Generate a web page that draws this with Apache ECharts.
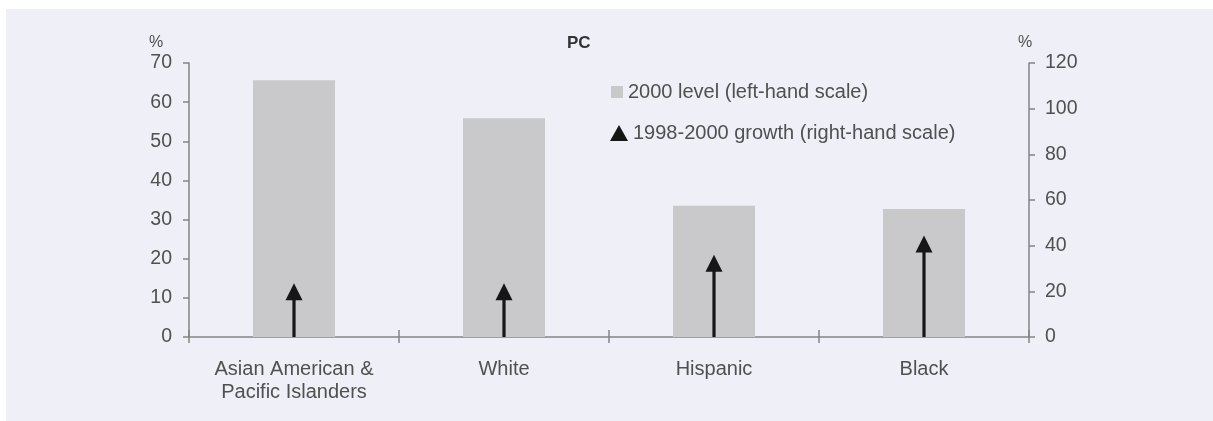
<!DOCTYPE html>
<html>
<head>
<meta charset="utf-8">
<script src="https://cdn.jsdelivr.net/npm/echarts@6/dist/echarts.min.js"></script>
<style>
html,body{margin:0;padding:0;background:#ffffff;width:1213px;height:421px;overflow:hidden;}
#chart{position:absolute;left:6px;top:9px;width:1207px;height:412px;}
</style>
</head>
<body>
<div id="chart"></div>
<script>
const categories = ['Asian American &\nPacific Islanders', 'White', 'Hispanic', 'Black'];
const level2000 = [65.6, 55.9, 33.5, 32.7];
const growth9800 = [23.5, 23.5, 36, 44.5];
const leftTicks = { min: 0, max: 70, interval: 10 };
const rightTicks = { min: 0, max: 120, interval: 20 };
const seriesNames = ['2000 level (left-hand scale)', '1998-2000 growth (right-hand scale)'];

const FONT = "'Liberation Sans', Arial, sans-serif";
const TXT = '#505050';
const AX = '#858585';
const FS = 19.5;
const FSL = 20;

const chart = echarts.init(document.getElementById('chart'));
chart.setOption({
  backgroundColor: '#eeeff7',
  animation: false,
  textStyle: { fontFamily: FONT },
  title: [
    { text: 'PC', left: 561, top: 26, padding: 0, textStyle: { fontFamily: FONT, fontSize: 17, fontWeight: 'bold', color: '#333' } },
    { text: '%', left: 143, top: 26, padding: 0, textStyle: { fontFamily: FONT, fontSize: 16, fontWeight: 'normal', color: TXT } },
    { text: '%', left: 1012, top: 26, padding: 0, textStyle: { fontFamily: FONT, fontSize: 16, fontWeight: 'normal', color: TXT } }
  ],
  legend: [
    { data: [{ name: seriesNames[0], icon: 'rect' }], left: 605, top: 73, padding: 0, itemWidth: 12, itemHeight: 12,
      textStyle: { fontFamily: FONT, fontSize: FSL, color: TXT } },
    { data: [{ name: seriesNames[1], icon: 'triangle' }], left: 604, top: 114, padding: 0, itemWidth: 18, itemHeight: 16,
      textStyle: { fontFamily: FONT, fontSize: FSL, color: TXT } }
  ],
  grid: { left: 183, right: 184, top: 54, bottom: 84, containLabel: false },
  xAxis: [
    { type: 'category', data: categories, boundaryGap: true,
      axisLine: { show: true, lineStyle: { color: AX, width: 1.5 } },
      axisTick: { show: true, inside: false, length: 6, lineStyle: { color: AX, width: 1.5 } },
      axisLabel: { fontFamily: FONT, fontSize: FSL, color: TXT, margin: 21, lineHeight: 23, interval: 0 } },
    { type: 'category', data: categories, boundaryGap: true, position: 'bottom',
      axisLine: { show: false },
      axisTick: { show: true, inside: true, length: 7, lineStyle: { color: AX, width: 1.5 } },
      axisLabel: { show: false } }
  ],
  yAxis: [
    { type: 'value', position: 'left', min: leftTicks.min, max: leftTicks.max, interval: leftTicks.interval,
      splitLine: { show: false },
      axisLine: { show: true, lineStyle: { color: AX, width: 1.5 } },
      axisTick: { show: true, inside: false, length: 6, lineStyle: { color: AX, width: 1.5 } },
      axisLabel: { fontFamily: FONT, fontSize: FS, color: TXT, margin: 17 } },
    { type: 'value', position: 'right', min: rightTicks.min, max: rightTicks.max, interval: rightTicks.interval,
      splitLine: { show: false },
      axisLine: { show: true, lineStyle: { color: AX, width: 1.5 } },
      axisTick: { show: true, inside: false, length: 6, lineStyle: { color: AX, width: 1.5 } },
      axisLabel: { fontFamily: FONT, fontSize: FS, color: TXT, margin: 16 } }
  ],
  series: [
    { name: seriesNames[0], type: 'bar', xAxisIndex: 0, yAxisIndex: 0, data: level2000,
      barWidth: 82, itemStyle: { color: '#c9c9cc' }, z: 2 },
    { name: seriesNames[1], type: 'custom', xAxisIndex: 0, yAxisIndex: 1, z: 3,
      itemStyle: { color: '#161616' },
      data: growth9800.map((v, i) => [i, v]),
      renderItem: function (params, api) {
        const base = api.coord([api.value(0), 0]);
        const tip = api.coord([api.value(0), api.value(1)]);
        const headH = 17, headW = 17;
        const x = base[0];
        return {
          type: 'group',
          children: [
            { type: 'rect', shape: { x: x - 1.6, y: tip[1] + headH - 1, width: 3.2, height: base[1] - tip[1] - headH + 1 },
              style: { fill: '#161616' } },
            { type: 'polygon', shape: { points: [[x - headW / 2, tip[1] + headH], [x + headW / 2, tip[1] + headH], [x, tip[1]]] },
              style: { fill: '#161616' } }
          ]
        };
      }
    }
  ]
});
</script>
</body>
</html>
